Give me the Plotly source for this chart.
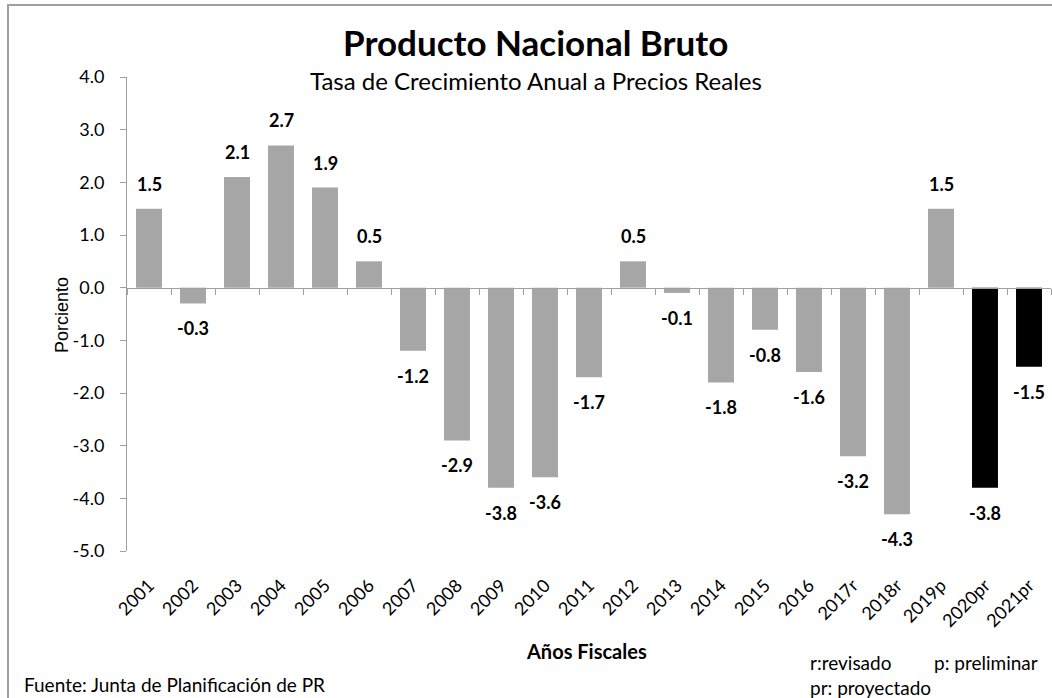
import plotly.graph_objects as go

years = ["2001", "2002", "2003", "2004", "2005", "2006", "2007", "2008", "2009", "2010",
         "2011", "2012", "2013", "2014", "2015", "2016", "2017r", "2018r", "2019p",
         "2020pr", "2021pr"]
growth = [1.5, -0.3, 2.1, 2.7, 1.9, 0.5, -1.2, -2.9, -3.8, -3.6,
          -1.7, 0.5, -0.1, -1.8, -0.8, -1.6, -3.2, -4.3, 1.5, -3.8, -1.5]
projected = [False] * 19 + [True] * 2
y_tick_vals = [4, 3, 2, 1, 0, -1, -2, -3, -4, -5]
y_tick_text = ["4.0", "3.0", "2.0", "1.0", "0.0", "-1.0", "-2.0", "-3.0", "-4.0", "-5.0"]

GRAY = "#A6A6A6"
colors = ["#000000" if p else GRAY for p in projected]

fig = go.Figure()
fig.add_trace(go.Bar(x=years, y=growth, marker=dict(color=colors, line=dict(width=0)),
                     showlegend=False, hoverinfo="x+y"))
# invisible trace to carry the axis line drawn at zero
fig.add_trace(go.Scatter(x=years, y=[0] * len(years), xaxis="x2", mode="markers",
                         marker=dict(opacity=0), showlegend=False, hoverinfo="skip"))

CAL = "Lato, Open Sans, sans-serif"
LAB_FONT = dict(family=CAL, size=18, color="black", weight="bold")
for i, v in enumerate(growth):
    fig.add_annotation(x=i, y=v, xref="x", yref="y", text=f"{v:.1f}", showarrow=False,
                       yanchor="bottom" if v >= 0 else "top",
                       yshift=12 if v >= 0 else -12, font=LAB_FONT)

def ann(text, x, y, size, xanchor="center", bold=False, angle=0, family=CAL):
    fig.add_annotation(text=text, x=x, y=y, xref="paper", yref="paper", showarrow=False,
                       xanchor=xanchor, yanchor="middle", textangle=angle,
                       font=dict(family=family, size=size, color="black",
                                 weight="bold" if bold else "normal"))

ann("Producto Nacional Bruto", 0.4426, 1.0738, 35, bold=True)
ann("Tasa de Crecimiento Anual a Precios Reales", 0.4426, 0.9916, 24)
ann("Porciento", -0.0703, 0.4979, 18, angle=-90, family="Liberation Sans, Arial")
ann("Años Fiscales", 0.4968, -0.211, 20, bold=True)
ann("Fuente: Junta de Planificación de PR", -0.1136, -0.2827, 19, xanchor="left")
ann("r:revisado", 0.737, -0.2342, 19, xanchor="left")
ann("p: preliminar", 0.8712, -0.2342, 19, xanchor="left")
ann("pr: proyectado", 0.737, -0.289, 19, xanchor="left")

fig.add_shape(type="rect", xref="paper", yref="paper", x0=-0.1288, x1=1.05, y0=-0.5, y1=1.1519,
              line=dict(color="#A0A0A0", width=2), fillcolor="rgba(0,0,0,0)", layer="below")

fig.update_layout(
    width=1052, height=698,
    margin=dict(l=127, r=1, t=77, b=147),
    paper_bgcolor="white", plot_bgcolor="white",
    bargap=0.41,
    xaxis=dict(type="category", categoryarray=years, range=[-0.5, 20.5],
               showline=False, ticks="outside", ticklen=16, tickcolor="rgba(0,0,0,0)",
               tickangle=-45,
               tickfont=dict(family=CAL, size=18, color="black"),
               showgrid=False, zeroline=False),
    xaxis2=dict(type="category", categoryarray=years, range=[-0.5, 20.5],
                overlaying="x", anchor="free", position=5 / 9, side="bottom",
                showline=True, linecolor="#A0A0A0", linewidth=1,
                ticks="outside", tickson="boundaries", ticklen=6, tickcolor="#A0A0A0",
                showticklabels=False, showgrid=False, zeroline=False),
    yaxis=dict(range=[-5, 4], tickmode="array", tickvals=y_tick_vals, ticktext=y_tick_text,
               showgrid=False, zeroline=False,
               showline=True, linecolor="#A0A0A0", linewidth=1,
               ticks="outside", ticklen=6, tickcolor="#A0A0A0", ticklabelstandoff=12,
               tickfont=dict(family=CAL, size=18, color="black")),
)

fig.write_html("out.html", config={"displayModeBar": False},
               post_script="document.body.style.margin='0px';")
